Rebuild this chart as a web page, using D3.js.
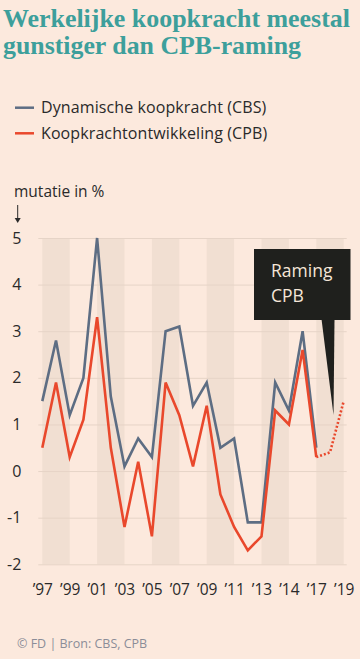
<!DOCTYPE html>
<html><head><meta charset="utf-8">
<script src="https://cdn.jsdelivr.net/npm/d3@7"></script>
<style>
html,body{margin:0;padding:0;background:#fce9dd;}
svg{display:block;}
</style></head><body>
<script>
const years = d3.range(1997, 2020);
const cbsYears = d3.range(1997, 2018);
const cbsValues = [1.5, 2.8, 1.2, 2.0, 5.0, 1.6, 0.1, 0.7, 0.3, 3.0, 3.1, 1.4, 1.9, 0.5, 0.7, -1.1, -1.1, 1.9, 1.3, 3.0, 0.5];
const cpbYears = d3.range(1997, 2018);
const cpbValues = [0.5, 1.9, 0.3, 1.1, 3.3, 0.5, -1.2, 0.2, -1.4, 1.9, 1.2, 0.1, 1.4, -0.5, -1.2, -1.7, -1.4, 1.3, 1.0, 2.6, 0.3];
const forecastYears = [2017, 2018, 2019];
const forecastValues = [0.3, 0.4, 1.5];
const yTicks = [5, 4, 3, 2, 1, 0, -1, -2];
const xTickYears = [1997, 1999, 2001, 2003, 2005, 2007, 2009, 2011, 2013, 2015, 2017, 2019];
const xTickLabels = ["’97", "’99", "’01", "’03", "’05", "’07", "’09", "’11", "’13", "’14", "’17", "’19"];
const bandStarts = [1997, 2001, 2005, 2009, 2013, 2017];
const titleLines = ["Werkelijke koopkracht meestal", "gunstiger dan CPB-raming"];
const legendItems = [{label: "Dynamische koopkracht (CBS)", color: "#5d6d83"}, {label: "Koopkrachtontwikkeling (CPB)", color: "#e9482c"}];

const W = 360, H = 659;
const svg = d3.select("body").append("svg").attr("width", W).attr("height", H);
svg.append("rect").attr("width", W).attr("height", H).attr("fill", "#fce9dd");

const x = d3.scaleLinear().domain([1997, 2019]).range([42.3, 343.7]);
const y = d3.scaleLinear().domain([-2, 5]).range([564.3, 238]);

// title
const title = svg.append("g");
titleLines.forEach((t, i) => {
  title.append("text").attr("x", 3).attr("y", 26.5 + i * 27)
    .attr("font-family", "'Liberation Serif', 'DejaVu Serif', serif")
    .attr("font-weight", "bold").attr("font-size", 26).attr("fill", "#3d9f9b")
    .attr("textLength", i === 0 ? 347 : 298).attr("lengthAdjust", "spacingAndGlyphs")
    .text(t);
});

// legend
const font = "'Open Sans', Lato, sans-serif";
legendItems.forEach((d, i) => {
  const yy = 107.7 + i * 25.6;
  svg.append("line").attr("x1", 15).attr("x2", 34).attr("y1", yy).attr("y2", yy)
    .attr("stroke", d.color).attr("stroke-width", 2.5);
  svg.append("text").attr("x", 41).attr("y", yy + 5.5).attr("font-family", font)
    .attr("font-size", 16).attr("letter-spacing", 0.1).attr("fill", "#2a2a2a").text(d.label);
});

// y label
svg.append("text").attr("x", 14).attr("y", 197).attr("font-family", font)
  .attr("font-size", 15.5).attr("fill", "#2a2a2a").text("mutatie in %");
svg.append("line").attr("x1", 17.7).attr("x2", 17.7).attr("y1", 205).attr("y2", 221)
  .attr("stroke", "#2a2a2a").attr("stroke-width", 1);
svg.append("path").attr("d", "M14.7,218 L20.7,218 L17.7,223 Z").attr("fill", "#2a2a2a");

// bands
svg.append("g").selectAll("rect").data(bandStarts).join("rect")
  .attr("x", d => x(d)).attr("width", d => x(d + 2) - x(d))
  .attr("y", y(5)).attr("height", y(-2) - y(5)).attr("fill", "#f1dfd2");

// grid + y axis
const yAxis = d3.axisLeft(y).tickValues(yTicks).tickSize(-(346.7 - 38.3)).tickFormat(d3.format("d"));
const gy = svg.append("g").attr("transform", "translate(38.3,0)").call(yAxis);
gy.select(".domain").remove();
gy.selectAll(".tick line").attr("stroke", "#e6d4c7").attr("stroke-width", 1);
gy.selectAll(".tick text").attr("x", -17).attr("font-family", font).attr("font-size", 16)
  .attr("fill", "#2a2a2a").text(d => d < 0 ? "-" + Math.abs(d) : d);

// x axis
const xAxis = d3.axisBottom(x).tickValues(xTickYears).tickSize(0)
  .tickFormat((d, i) => xTickLabels[i]);
const gx = svg.append("g").attr("transform", "translate(0,584)").call(xAxis);
gx.select(".domain").remove();
gx.selectAll(".tick text").attr("font-family", font).attr("font-size", 15.5)
  .attr("fill", "#2a2a2a").attr("dy", "0.71em").attr("y", 0);

// lines
const line = d3.line().x(d => x(d[0])).y(d => y(d[1]));
svg.append("path").datum(cbsYears.map((yr, i) => [yr, cbsValues[i]]))
  .attr("d", line).attr("fill", "none").attr("stroke", "#5d6d83")
  .attr("stroke-width", 2.6).attr("stroke-linejoin", "miter");
svg.append("path").datum(cpbYears.map((yr, i) => [yr, cpbValues[i]]))
  .attr("d", line).attr("fill", "none").attr("stroke", "#e9482c")
  .attr("stroke-width", 2.6).attr("stroke-linejoin", "miter");
svg.append("path").datum(forecastYears.map((yr, i) => [yr, forecastValues[i]]))
  .attr("d", line).attr("fill", "none").attr("stroke", "#e9482c")
  .attr("stroke-width", 2.6).attr("stroke-dasharray", "2,2");

// annotation
const ann = svg.append("g");
ann.append("path").attr("d", "M321.5,319 L334.5,319 L333.5,415 Z").attr("fill", "#1f201d");
ann.append("rect").attr("x", 254).attr("y", 249).attr("width", 96.5).attr("height", 71).attr("fill", "#1f201d");
["Raming", "CPB"].forEach((t, i) => {
  ann.append("text").attr("x", 271).attr("y", 277 + i * 24.7).attr("font-family", font)
    .attr("font-size", 17.5).attr("fill", "#f5e6d8").text(t);
});

// footer
svg.append("text").attr("x", 17).attr("y", 648).attr("font-family", font)
  .attr("font-size", 12.5).attr("fill", "#8b8d98").text("© FD | Bron: CBS, CPB");
</script>
</body></html>
